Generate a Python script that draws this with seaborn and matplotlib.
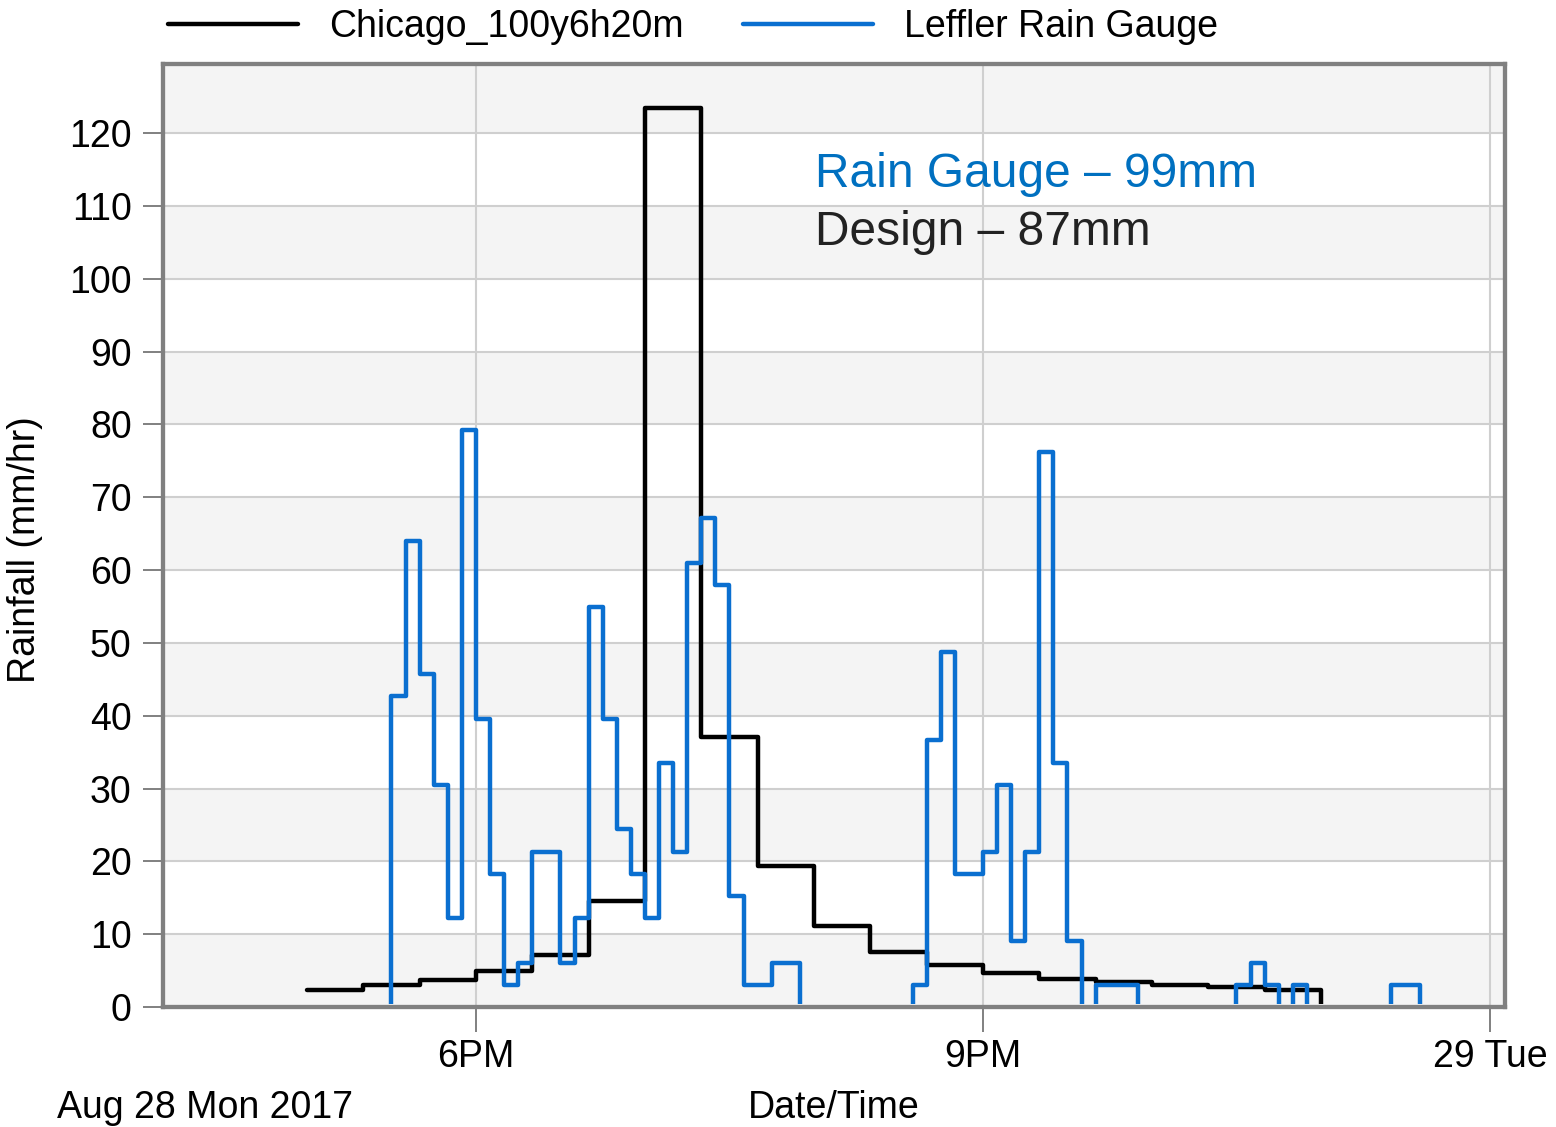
import numpy as np
import pandas as pd
import matplotlib
matplotlib.use("Agg")
import matplotlib.pyplot as plt
import matplotlib.dates as mdates
from matplotlib.ticker import FuncFormatter
from matplotlib.lines import Line2D
from matplotlib.transforms import Bbox, TransformedBbox
import seaborn as sns

# Design storm: Chicago 100-year, 20-minute intervals starting 5 PM (mm/hr)
design_name = "Chicago_100y6h20m"
design_start = "2017-08-28 17:00"
design_rate = [2.4, 3.0, 3.7, 4.9, 7.2, 14.6, 123.5, 37.1, 19.4, 11.1,
               7.6, 5.8, 4.7, 3.9, 3.4, 3.0, 2.7, 2.4, 0.0]

# Leffler rain gauge: 5-minute intervals starting 5:25 PM (mm/hr)
gauge_name = "Leffler Rain Gauge"
gauge_start = "2017-08-28 17:25"
gauge_rate = [0.0,
              42.7, 64.0, 45.7, 30.5, 12.2, 79.2, 39.6, 18.3, 3.0, 6.1,
              21.3, 21.3, 6.1, 12.2, 54.9, 39.6, 24.4, 18.3, 12.2, 33.5,
              21.3, 61.0, 67.1, 57.9, 15.2, 3.0, 3.0, 6.1, 6.1,
              0.0, 0.0, 0.0, 0.0, 0.0, 0.0, 0.0, 0.0,
              3.0, 36.6, 48.8, 18.3, 18.3, 21.3, 30.5, 9.1, 21.3, 76.2,
              33.5, 9.1, 0.0, 3.0, 3.0, 3.0,
              0.0, 0.0, 0.0, 0.0, 0.0, 0.0, 0.0,
              3.0, 6.1, 3.0, 0.0, 3.0,
              0.0, 0.0, 0.0, 0.0, 0.0, 0.0,
              3.0, 3.0, 0.0]

gauge_label = "Rain Gauge \u2013 99mm"
design_label = "Design \u2013 87mm"

colors = {design_name: "#000000", gauge_name: "#0a6fd0"}

design_df = pd.DataFrame({
    "time": pd.date_range(design_start, periods=len(design_rate), freq="20min"),
    "rate": design_rate, "series": design_name})
gauge_df = pd.DataFrame({
    "time": pd.date_range(gauge_start, periods=len(gauge_rate), freq="5min"),
    "rate": gauge_rate, "series": gauge_name})
df = pd.concat([design_df, gauge_df], ignore_index=True)

sns.set_style("white")
plt.rcParams["font.family"] = ["Liberation Sans", "DejaVu Sans"]
plt.rcParams["text.color"] = "black"
FS = 27
GREY = "#808080"
LW = 3.2

fig = plt.figure(figsize=(15.56, 11.27), dpi=100)
ax = fig.add_axes([163 / 1556, 120 / 1127, 1342 / 1556, 943 / 1127])

# alternating horizontal bands
for lo in range(0, 130, 20):
    ax.axhspan(lo, lo + 10, color="#f4f4f4", zorder=0, lw=0)

sns.lineplot(data=df, x="time", y="rate", hue="series",
             hue_order=[design_name, gauge_name], palette=colors,
             drawstyle="steps-post", linewidth=LW, estimator=None,
             legend=False, ax=ax, zorder=3)

ax.set_xlim(pd.Timestamp("2017-08-28 16:08:54"), pd.Timestamp("2017-08-29 00:05:20"))
ax.set_ylim(0, 129.5)
ax.set_yticks(np.arange(0, 121, 10))

# keep the zero-rate stretches tucked under the bottom spine
clip = TransformedBbox(Bbox([[0, 0.0036], [1, 1.02]]), ax.transAxes)
for line in ax.get_lines():
    line.set_clip_on(True)
    line.set_clip_box(clip)


def fmt_time(x, pos):
    d = mdates.num2date(x)
    if d.hour == 0:
        return f"{d.day} {d:%a}"
    h = d.hour % 12 or 12
    return f"{h}{'PM' if d.hour >= 12 else 'AM'}"


ax.xaxis.set_major_locator(mdates.HourLocator(byhour=[0, 18, 21]))
ax.xaxis.set_major_formatter(FuncFormatter(fmt_time))
ax.xaxis.set_minor_locator(mdates.HourLocator(byhour=[17, 19, 20, 22, 23]))

ax.grid(True, which="major", color="#cfcfcf", lw=1.5, zorder=1)
ax.set_axisbelow(True)

ax.tick_params(axis="x", which="major", direction="out", length=18, width=1.4,
               color=GREY, labelcolor="black", labelsize=FS, pad=5)
ax.tick_params(axis="x", which="minor", direction="in", length=11, width=1.4,
               color=GREY)
ax.tick_params(axis="y", which="major", direction="out", length=14.5, width=1.4,
               color=GREY, labelcolor="black", labelsize=FS, pad=8)
ax.tick_params(left=True, bottom=True)

for sp in ax.spines.values():
    sp.set_visible(True)
    sp.set_color(GREY)
    sp.set_linewidth(3.1)
    sp.set_zorder(4)

ax.set_xlabel("")
ax.set_ylabel("")
fig.text(25 / 1556, 1 - 550 / 1127, "Rainfall (mm/hr)", rotation=90,
         ha="center", va="center", fontsize=FS, color="black")
fig.text(834 / 1556, 1 - 1118 / 1127, "Date/Time", ha="center",
         va="baseline", fontsize=FS, color="black")
fig.text(57 / 1556, 1 - 1118 / 1127, "Aug 28 Mon 2017", ha="left",
         va="baseline", fontsize=FS, color="black")

ax.text(0.4858, 0.8696, gauge_label, transform=ax.transAxes, color="#0070c0",
        fontsize=34.5, ha="left", va="baseline")
ax.text(0.4858, 0.808, design_label, transform=ax.transAxes, color="#222222",
        fontsize=34.5, ha="left", va="baseline")

handles = [Line2D([], [], color=colors[design_name], lw=LW),
           Line2D([], [], color=colors[gauge_name], lw=LW)]
fig.legend(handles, [design_name, gauge_name], loc="center left",
           bbox_to_anchor=(168 / 1556, 1 - 27 / 1127), ncol=2, frameon=False,
           borderpad=0, borderaxespad=0, handlelength=3.47,
           handletextpad=0.83, columnspacing=1.57, fontsize=FS,
           labelcolor="black")

fig.savefig("out.png", dpi=100)
